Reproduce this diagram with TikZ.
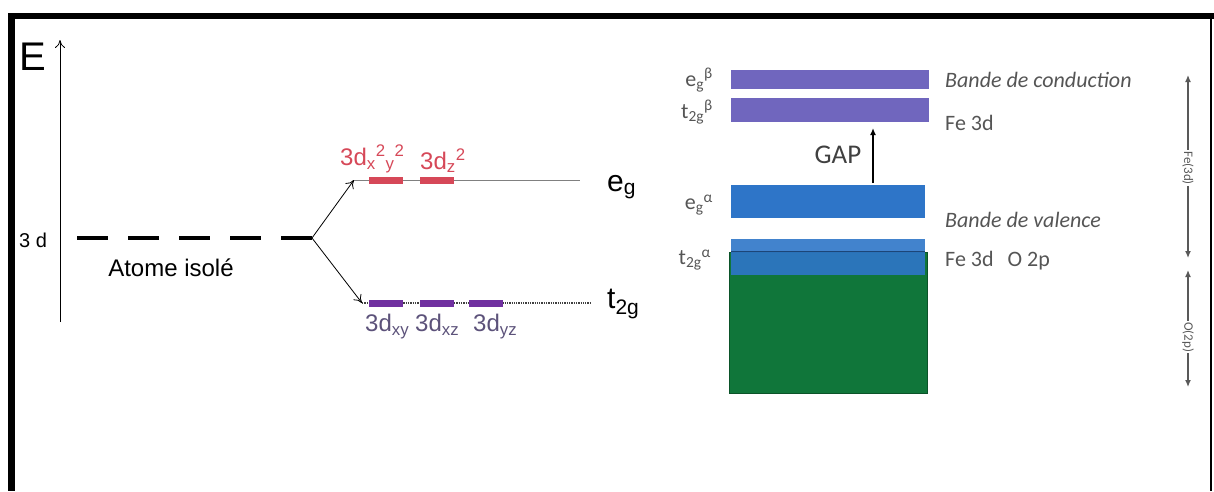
\documentclass[tikz,border=0pt]{standalone}
\usepackage{fontspec}
\setmainfont{Liberation Sans}
\newfontfamily\calfont{Carlito}
\usetikzlibrary{arrows.meta,positioning}
\definecolor{egred}{RGB}{214,72,88}
\definecolor{tpurple}{RGB}{112,48,160}
\definecolor{tlabel}{RGB}{92,82,122}
\definecolor{betaband}{RGB}{112,102,190}
\definecolor{alphaband}{RGB}{46,117,200}
\definecolor{valgreen}{RGB}{16,118,58}
\definecolor{bandgray}{RGB}{85,85,85}
\tikzset{
    level/.style={
        gray,
        line width=0.8pt
    },
    orbbar/.style={
        rectangle,
        inner sep=0pt,
        minimum width=34pt,
        minimum height=7pt
    },
    egbar/.style={
        orbbar,
        fill=egred
    },
    tbar/.style={
        orbbar,
        fill=tpurple
    },
    orblabel/.style={
        inner sep=0pt,
        font=\fontsize{24}{26}\selectfont
    },
    band/.style={
        rectangle,
        inner sep=0pt
    },
    bandtext/.style={
        anchor=west,
        inner sep=0pt,
        text=bandgray,
        font=\calfont\fontsize{22}{24}\selectfont
    },
    spinlabel/.style={
        anchor=east,
        inner sep=0pt,
        text=bandgray,
        font=\calfont\fontsize{22}{24}\selectfont
    },
    split/.style={
        -{To[length=8pt,width=10pt]},
        line width=0.8pt
    },
    spanarrow/.style={
        {Latex[length=7pt,width=6pt]}-{Latex[length=7pt,width=6pt]},
        gray!70!black,
        line width=1.3pt
    },
    spanlabel/.style={
        rotate=-90,
        fill=white,
        inner sep=1pt,
        text=gray!70!black,
        font=\calfont\fontsize{13}{13}\selectfont
    }
}

\begin{document}
\begin{tikzpicture}[x=1pt,y=-1pt]
    \useasboundingbox (0,0) rectangle (1214,491);
    % Frame
    \draw[line width=6pt] (8,16) -- (1214,16);
    \draw[line width=7pt] (11.5,13) -- (11.5,491);
    \draw[line width=1.5pt] (1211,19) -- (1211,491);

    % Isolated atom
    \coordinate (axisbot) at (60,322);
    \coordinate (axistop) at (60,40);
    \draw[split] (axisbot) -- (axistop);
    \node[inner sep=0pt, font=\fontsize{40}{40}\selectfont] (E) at (33,57) {E};
    \node[inner sep=0pt, font=\fontsize{20}{20}\selectfont] (d3) at (33,240) {3 d};
    \coordinate (d3start) at (77,238);
    \coordinate (splitpt) at (312,238);
    \draw[line width=3.5pt, dash pattern=on 31pt off 20pt] (d3start) -- (splitpt);
    \node[inner sep=0pt, font=\fontsize{24}{24}\selectfont] (isole) at (171,268) {Atome isolé};

    % Crystal field splitting
    \coordinate (eg0) at (354,180);
    \coordinate (egend) at (580,180);
    \coordinate (t0) at (362,303);
    \coordinate (tend) at (590,303);
    \draw[split] (splitpt) -- (eg0);
    \draw[split] (splitpt) -- (t0);
    \draw[level] (eg0) -- (egend);
    \draw[darkgray, line width=1.3pt, densely dotted] (t0) -- (tend);
    \node[egbar] (dx2y2) at (386,180.5) {};
    \node[egbar] (dz2) at (436.5,180.5) {};
    \node[tbar] (dxy) at (386,303.5) {};
    \node[tbar] (dxz) at (436.5,303.5) {};
    \node[tbar] (dyz) at (486,303.5) {};
    \node[orblabel, text=egred, anchor=south west] (lx2y2) at (340,173) {3d\textsubscript{x}\textsuperscript{2}\textsubscript{y}\textsuperscript{2}};
    \node[orblabel, text=egred, anchor=south west] (lz2) at (420,173) {3d\textsubscript{z}\textsuperscript{2}};
    \node[orblabel, text=tlabel, anchor=north west] (lxy) at (365,314) {3d\textsubscript{xy}};
    \node[orblabel, text=tlabel, anchor=north west] (lxz) at (415,314) {3d\textsubscript{xz}};
    \node[orblabel, text=tlabel, anchor=north west] (lyz) at (473,314) {3d\textsubscript{yz}};
    \node[inner sep=0pt, anchor=west, font=\fontsize{30}{30}\selectfont] (eg) at (607,187) {e\textsubscript{g}};
    \node[inner sep=0pt, anchor=west, font=\fontsize{30}{30}\selectfont] (t2g) at (607,304) {t\textsubscript{2g}};

    % Band picture
    \node[band, fill=betaband, minimum width=198pt, minimum height=19pt] (ebeta) at (830,79.5) {};
    \node[band, fill=betaband, minimum width=198pt, minimum height=24pt] (tbeta) at (830,110) {};
    \node[band, fill=alphaband, minimum width=194pt, minimum height=33pt] (ealpha) at (828,201.5) {};
    \node[band, fill=valgreen, draw=valgreen!70!black, minimum width=198pt, minimum height=141pt] (valence) at (828,322.5) {};
    \node[band, fill=alphaband, fill opacity=0.9, minimum width=194pt, minimum height=36pt] (talpha) at (828,257) {};
    \draw[alphaband!60!black, line width=1pt] (talpha.west |- valence.north) -- (talpha.east |- valence.north);
    \coordinate (gapbot) at (873,183);
    \coordinate (gaptop) at (873,128);
    \draw[-{Latex[length=7pt,width=6pt]}, line width=1.6pt] (gapbot) -- (gaptop);
    \node[inner sep=0pt, text=darkgray, font=\calfont\fontsize{27}{27}\selectfont] (gap) at (838,155) {GAP};
    \node[spinlabel] (leb) at (713,80) {e\textsubscript{g}\textsuperscript{β}};
    \node[spinlabel] (ltb) at (713,112) {t\textsubscript{2g}\textsuperscript{β}};
    \node[spinlabel] (lea) at (713,205) {e\textsubscript{g}\textsuperscript{α}};
    \node[spinlabel] (lta) at (711,260) {t\textsubscript{2g}\textsuperscript{α}};
    \node[bandtext] (cond) at (945,80) {\itshape Bande de conduction};
    \node[bandtext] (fe3d) at (945,123) {Fe 3d};
    \node[bandtext] (val) at (945,220) {\itshape Bande de valence};
    \node[bandtext] (feo) at (945,261) {Fe 3d\hspace{14pt}O 2p};

    % Orbital ranges
    \coordinate (fetop) at (1188,75);
    \coordinate (febot) at (1188,258);
    \coordinate (otop) at (1188,270);
    \coordinate (obot) at (1188,387);
    \draw[spanarrow] (fetop) -- (febot);
    \draw[spanarrow] (otop) -- (obot);
    \node[spanlabel] (felab) at (1188,168) {Fe(3d)};
    \node[spanlabel] (olab) at (1188,337) {O(2p)};
\end{tikzpicture}
\end{document}
